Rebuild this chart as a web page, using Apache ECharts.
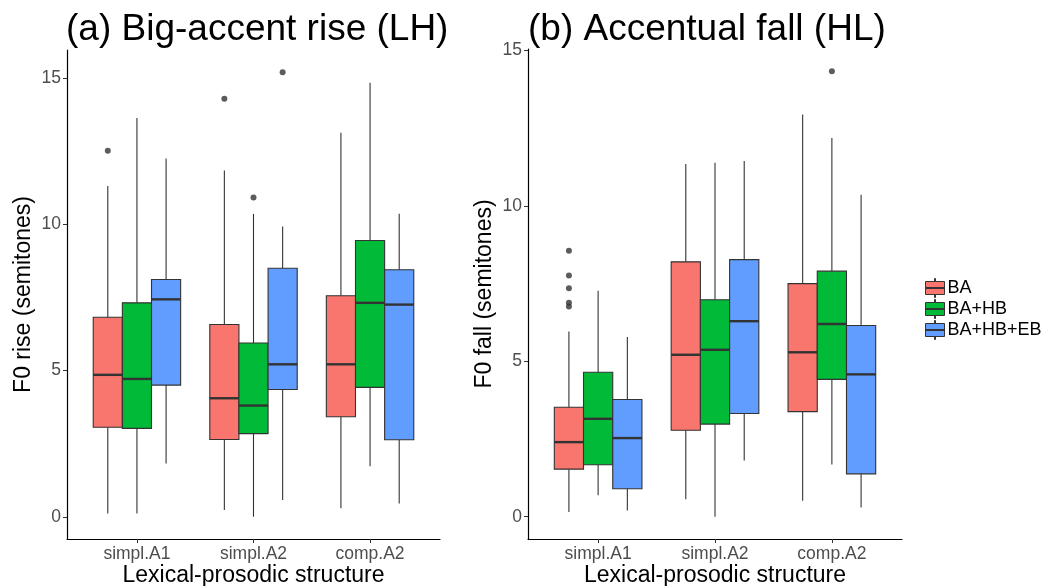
<!DOCTYPE html>
<html>
<head>
<meta charset="utf-8">
<title>F0 rise / fall by lexical-prosodic structure</title>
<script src="https://cdn.jsdelivr.net/npm/echarts@6.0.0/dist/echarts.min.js"></script>
<style>
  html, body { margin: 0; padding: 0; background: #fff; }
  #main { width: 1043px; height: 586px; }
</style>
</head>
<body>
<div id="main"></div>
<script>
const categories = ['simpl.A1', 'simpl.A2', 'comp.A2']
const groupNames = ['BA', 'BA+HB', 'BA+HB+EB']
const yTicks = [0, 5, 10, 15]

// [lower whisker, Q1, median, Q3, upper whisker] per category
const riseBA     = [[0.11, 3.06, 4.85, 6.82, 11.30], [0.23, 2.64, 4.05, 6.57, 11.83], [0.29, 3.42, 5.21, 7.55, 13.12]]
const riseBAHB   = [[0.11, 3.02, 4.71, 7.31, 13.63], [0.00, 2.84, 3.80, 5.94, 10.35], [1.73, 4.42, 7.31, 9.44, 14.83]]
const riseBAHBEB = [[1.82, 4.50, 7.43, 8.11, 12.24], [0.57, 4.35, 5.21, 8.49, 9.92], [0.45, 2.63, 7.25, 8.44, 10.35]]

const fallBA     = [[0.15, 1.53, 2.40, 3.52, 5.96], [0.56, 2.78, 5.21, 8.20, 11.35], [0.51, 3.38, 5.29, 7.50, 12.94]]
const fallBAHB   = [[0.69, 1.67, 3.15, 4.65, 7.27], [0.00, 2.98, 5.37, 6.98, 11.39], [1.68, 4.42, 6.20, 7.90, 12.18]]
const fallBAHBEB = [[0.20, 0.90, 2.53, 3.77, 5.78], [1.81, 3.32, 6.29, 8.27, 11.44], [0.30, 1.38, 4.58, 6.15, 10.36]]

// outliers: [category index, value]
const riseOutBA     = [[0, 12.51], [1, 14.28]]
const riseOutBAHB   = [[1, 10.91]]
const riseOutBAHBEB = [[1, 15.19]]

const fallOutBA     = [[0, 8.56], [0, 7.76], [0, 7.35], [0, 6.88], [0, 6.76]]
const fallOutBAHB   = [[2, 14.33]]
const fallOutBAHBEB = []

const colors = ['#F8766D', '#00BA38', '#619CFF']
const BOX_W = 0.25   // dodge width 0.75 split over 3 boxes
const FONT = "'Liberation Sans', Arial, sans-serif"

const panels = [
  { title: '(a) Big-accent rise (LH)', yName: 'F0 rise (semitones)',
    boxes: [riseBA, riseBAHB, riseBAHBEB], outliers: [riseOutBA, riseOutBAHB, riseOutBAHBEB],
    grid: { left: 67, top: 50, width: 373, height: 489 }, titleLeft: 66 },
  { title: '(b) Accentual fall (HL)', yName: 'F0 fall (semitones)',
    boxes: [fallBA, fallBAHB, fallBAHBEB], outliers: [fallOutBA, fallOutBAHB, fallOutBAHBEB],
    grid: { left: 528, top: 49, width: 374, height: 490 }, titleLeft: 528 }
]

// ggplot style continuous range: data range + 5% each side
function expandRange (boxes, outliers) {
  let lo = Infinity, hi = -Infinity
  boxes.forEach(g => g.forEach(s => { lo = Math.min(lo, s[0]); hi = Math.max(hi, s[4]) }))
  outliers.forEach(g => g.forEach(o => { lo = Math.min(lo, o[1]); hi = Math.max(hi, o[1]) }))
  const pad = (hi - lo) * 0.05
  return [lo - pad, hi + pad]
}

function renderBox (params, api) {
  const x = api.value(0)
  const low = api.coord([x, api.value(1)])
  const q1 = api.coord([x, api.value(2)])
  const med = api.coord([x, api.value(3)])
  const q3 = api.coord([x, api.value(4)])
  const high = api.coord([x, api.value(5)])
  const w = api.size([BOX_W, 0])[0]
  const cx = low[0]
  const line = { stroke: '#333333', lineWidth: 1.1 }
  return {
    type: 'group',
    children: [
      { type: 'line', shape: { x1: cx, y1: q3[1], x2: cx, y2: high[1] }, style: line },
      { type: 'line', shape: { x1: cx, y1: q1[1], x2: cx, y2: low[1] }, style: line },
      { type: 'rect', shape: { x: cx - w / 2, y: q3[1], width: w, height: q1[1] - q3[1] },
        style: { fill: api.visual('color'), stroke: '#333333', lineWidth: 1.1 } },
      { type: 'line', shape: { x1: cx - w / 2, y1: med[1], x2: cx + w / 2, y2: med[1] },
        style: { stroke: '#333333', lineWidth: 2.4 } }
    ]
  }
}

const options = {
  animation: false,
  textStyle: { fontFamily: FONT },
  title: [],
  grid: [],
  xAxis: [],
  yAxis: [],
  legend: {
    data: groupNames,
    orient: 'vertical',
    left: 920,
    top: 273,
    itemWidth: 19,
    itemHeight: 19,
    itemGap: 1,
    icon: 'path://M9,0L10,0L10,3L9,3ZM0,3L19,3L19,16L0,16ZM0,9L19,9L19,10L0,10ZM9,16L10,16L10,19L9,19Z',
    itemStyle: { borderColor: '#333333', borderWidth: 1 },
    textStyle: { fontSize: 18, color: '#000', fontFamily: FONT, padding: [0, 0, 0, -2] },
    selectedMode: false
  },
  series: []
}

panels.forEach((p, k) => {
  const range = expandRange(p.boxes, p.outliers)
  options.title.push({
    text: p.title, left: p.titleLeft, top: 11, padding: 0,
    textStyle: { fontSize: 37, fontWeight: 'normal', color: '#000', fontFamily: FONT }
  })
  options.grid.push(Object.assign({ outerBoundsMode: 'none', containLabel: false }, p.grid))
  options.xAxis.push({
    type: 'value', gridIndex: k, min: 0.4, max: 3.6,
    name: 'Lexical-prosodic structure', nameLocation: 'middle', nameGap: 25,
    nameMoveOverlap: false,
    nameTextStyle: { fontSize: 23, color: '#000', fontFamily: FONT },
    axisLine: { show: true, onZero: false, lineStyle: { color: '#000', width: 1.2 } },
    axisTick: { show: true, customValues: [1, 2, 3], length: 4, lineStyle: { color: '#333' } },
    axisLabel: { customValues: [1, 2, 3], formatter: v => categories[Math.round(v) - 1],
      fontSize: 17.5, color: '#4d4d4d', margin: 6, fontFamily: FONT },
    splitLine: { show: false }
  })
  options.yAxis.push({
    type: 'value', gridIndex: k, min: range[0], max: range[1],
    name: p.yName, nameLocation: 'middle', nameGap: 32,
    nameTextStyle: { fontSize: 23, color: '#000', fontFamily: FONT },
    axisLine: { show: true, onZero: false, lineStyle: { color: '#000', width: 1.2 } },
    axisTick: { show: true, customValues: yTicks, length: 4, lineStyle: { color: '#333' } },
    axisLabel: { customValues: yTicks, fontSize: 17.5, color: '#4d4d4d', margin: 6, fontFamily: FONT },
    splitLine: { show: false }
  })
  groupNames.forEach((name, g) => {
    const offset = (g - 1) * BOX_W
    options.series.push({
      name: name, type: 'custom', xAxisIndex: k, yAxisIndex: k,
      itemStyle: { color: colors[g] },
      renderItem: renderBox,
      encode: { x: 0, y: [1, 2, 3, 4, 5] },
      data: p.boxes[g].map((s, i) => [i + 1 + offset].concat(s)),
      z: 2
    })
    options.series.push({
      type: 'scatter', xAxisIndex: k, yAxisIndex: k,
      symbol: 'circle', symbolSize: 6,
      itemStyle: { color: '#333333' },
      data: p.outliers[g].map(o => [o[0] + 1 + offset, o[1]]),
      z: 3
    })
  })
})

const chart = echarts.init(document.getElementById('main'))
chart.setOption(options)
</script>
</body>
</html>
